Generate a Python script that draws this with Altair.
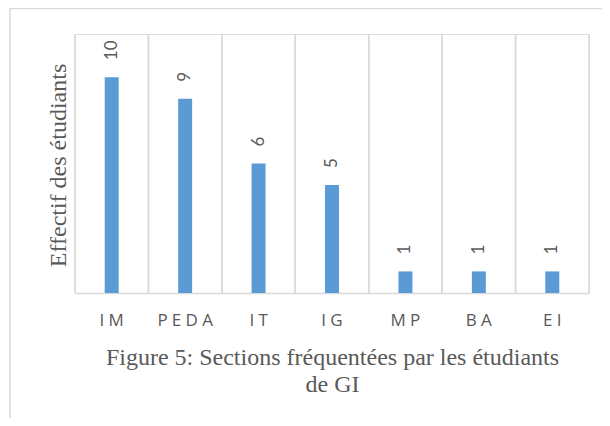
import altair as alt
import pandas as pd

categories = ["IM", "PEDA", "IT", "IG", "MP", "BA", "EI"]
values = [10, 9, 6, 5, 1, 1, 1]
y_title = "Effectif des étudiants"
caption = ["Figure 5: Sections fréquentées par les étudiants", "de GI"]

df = pd.DataFrame({"cat": categories, "value": values})

GRID = "#d9d9d9"
TXT = "#595959"

x_axis = alt.Axis(
    title=caption,
    titleFont="Liberation Serif",
    titleFontSize=24,
    titleFontWeight="normal",
    titleColor=TXT,
    titleLineHeight=27,
    titleBaseline="top",
    titleAlign="center",
    titleX=257,
    titleY=52,
    labelExpr="join(split(datum.label, ''), '\u2005')",
    labelFont="Open Sans",
    labelFontSize=17,
    labelColor=TXT,
    labelAngle=0,
    labelAlign="center",
    labelPadding=19,
    ticks=False,
    grid=False,
    domain=True,
    domainColor=GRID,
    domainWidth=1.5,
)
x_scale = alt.Scale(paddingInner=0, paddingOuter=0)


def xe(**kw):
    return alt.X("cat:N", sort=categories, scale=x_scale, axis=x_axis, **kw)


y_axis = alt.Axis(
    title=y_title,
    titleFont="Liberation Serif",
    titleFontSize=24,
    titleFontWeight="normal",
    titleColor=TXT,
    titleAngle=270,
    titleBaseline="middle",
    titleAlign="center",
    titleX=-17,
    titleY=131,
    labels=False,
    ticks=False,
    domain=False,
    grid=False,
)
ye = alt.Y("value:Q", scale=alt.Scale(domain=[0, 12]), axis=y_axis)

base = alt.Chart(df)

frame = alt.Chart(pd.DataFrame({"k": [0]})).mark_rect(
    fill=None, stroke=GRID, strokeWidth=1.5
).encode(
    x=alt.value(-65), x2=alt.value(700),
    y=alt.value(-25.5), y2=alt.value(600),
)

grid_left = base.mark_rule(color=GRID, strokeWidth=1.5).encode(x=xe(bandPosition=0))
grid_right = base.mark_rule(color=GRID, strokeWidth=1.5).encode(x=xe(bandPosition=1))

bars = base.mark_bar(color="#5B9BD5", size=14).encode(x=xe(), y=ye)

labels = base.mark_text(
    angle=270, align="left", baseline="middle", dx=17,
    font="Lato", fontSize=17, color=TXT,
).encode(
    x=xe(),
    y=ye,
    text=alt.Text("value:Q"),
)

chart = alt.layer(frame, grid_left, grid_right, bars, labels).properties(
    width=514,
    height=259,
    autosize=alt.AutoSizeParams(type="none"),
    padding={"left": 67, "top": 26, "right": 13, "bottom": 125},
).configure_view(stroke=None).configure(background="white")

chart.save("out.html", embed_options={"renderer": "svg", "actions": False})
